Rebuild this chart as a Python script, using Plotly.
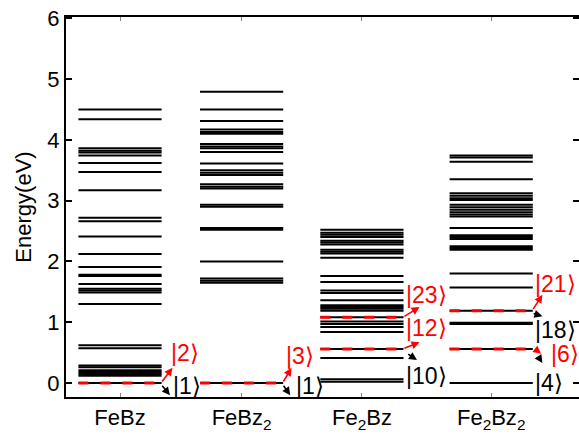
import plotly.graph_objects as go

# ---------------- data ----------------
categories = ["FeBz", "FeBz<sub>2</sub>", "Fe<sub>2</sub>Bz", "Fe<sub>2</sub>Bz<sub>2</sub>"]
centers = [1.0, 1.95, 2.89, 3.9]

levels_FeBz = [4.50, 4.34, 3.86, 3.82, 3.79, 3.74, 3.62, 3.47, 3.17, 2.72, 2.66, 2.41,
               2.12, 1.91, 1.78, 1.76, 1.63, 1.55, 1.52, 1.49, 1.30, 0.62, 0.57,
               0.29, 0.26, 0.21, 0.18, 0.15, 0.12, 0.0]
levels_FeBz2 = [4.79, 4.50, 4.31, 4.17, 4.13, 4.10, 3.93, 3.89, 3.86, 3.80, 3.61, 3.50,
                3.46, 3.42, 3.27, 3.23, 3.20, 2.93, 2.90, 2.55, 2.52, 2.00, 1.72, 1.68,
                1.65, 0.0]
levels_Fe2Bz = [2.52, 2.47, 2.44, 2.40, 2.34, 2.31, 2.28, 2.19, 2.16, 2.13, 2.06, 1.76,
                1.66, 1.52, 1.48, 1.36, 1.28, 1.25, 1.22, 1.19, 1.08, 1.01, 0.97, 0.92,
                0.84, 0.56, 0.41, 0.06, 0.02]
levels_Fe2Bz2 = [3.74, 3.71, 3.64, 3.35, 3.12, 3.08, 3.04, 3.01, 2.93, 2.89, 2.85, 2.81,
                 2.77, 2.74, 2.55, 2.43, 2.40, 2.37, 2.25, 2.22, 2.19, 1.80, 1.57, 1.19,
                 0.99, 0.97, 0.56, 0.0]
all_levels = [levels_FeBz, levels_FeBz2, levels_Fe2Bz, levels_Fe2Bz2]

# highlighted (red dashed) levels per column
highlight = [[0.0], [0.0], [1.08, 0.56], [1.19, 0.56]]

# state labels: (column, text, colour, x, y)
state_labels = [
    (0, "|2⟩", "red", 1.38, 0.50), (0, "|1⟩", "black", 1.40, -0.05),
    (1, "|3⟩", "red", 2.28, 0.44), (1, "|1⟩", "black", 2.36, -0.05),
    (2, "|23⟩", "red", 3.22, 1.44), (2, "|12⟩", "red", 3.22, 0.91), (2, "|10⟩", "black", 3.22, 0.12),
    (3, "|21⟩", "red", 4.23, 1.63), (3, "|18⟩", "black", 4.23, 0.87),
    (3, "|6⟩", "red", 4.35, 0.48), (3, "|4⟩", "black", 4.23, 0.0),
]
# arrows: (tail_x, tail_y, head_x, head_y, colour)
arrows = [
    (1.32, 0.0, 1.41, 0.25, "red"), (1.32, -0.02, 1.39, -0.20, "black"),
    (2.27, 0.0, 2.34, 0.25, "red"), (2.27, -0.02, 2.33, -0.20, "black"),
    (3.21, 1.08, 3.34, 1.25, "red"), (3.21, 0.56, 3.34, 0.67, "red"), (3.24, 0.49, 3.32, 0.38, "black"),
    (4.22, 1.19, 4.30, 1.45, "red"), (4.22, 1.15, 4.30, 1.10, "black"),
    (4.23, 0.58, 4.29, 0.48, "red"), (4.26, 0.46, 4.30, 0.33, "black"),
]

hw = 0.325
FONT = "Liberation Sans, Arial, Helvetica, sans-serif"

fig = go.Figure()

for c, levs in zip(centers, all_levels):
    xs, ys = [], []
    for e in levs:
        xs += [c - hw, c + hw, None]
        ys += [e, e, None]
    fig.add_trace(go.Scatter(x=xs, y=ys, mode="lines",
                             line=dict(color="black", width=2),
                             hoverinfo="skip", showlegend=False))

for c, levs in zip(centers, highlight):
    xs, ys = [], []
    for e in levs:
        xs += [c - hw, c + hw, None]
        ys += [e, e, None]
    fig.add_trace(go.Scatter(x=xs, y=ys, mode="lines",
                             line=dict(color="red", width=3, dash="10px,12px"),
                             hoverinfo="skip", showlegend=False))

# invisible trace for right-side tick marks
fig.add_trace(go.Scatter(x=[None], y=[None], yaxis="y2", showlegend=False, hoverinfo="skip"))

for col, txt, colr, x, y in state_labels:
    fig.add_annotation(x=x, y=y, text=txt, showarrow=False, xanchor="left", yanchor="middle",
                       font=dict(family=FONT, size=23, color=colr))

for tx, ty, hx, hy, colr in arrows:
    fig.add_annotation(x=hx, y=hy, ax=tx, ay=ty, xref="x", yref="y", axref="x", ayref="y",
                       text="", showarrow=True, arrowhead=2, arrowsize=1, arrowwidth=1.6,
                       arrowcolor=colr, standoff=0, startstandoff=0)

yr = [-0.23, 6.02]
fig.update_layout(
    width=579, height=439,
    margin=dict(l=66, r=0, t=17, b=42),
    plot_bgcolor="white", paper_bgcolor="white",
    font=dict(family=FONT, size=22, color="black"),
    xaxis=dict(range=[0.578, 4.586], tickvals=centers, ticktext=categories,
               showline=True, linecolor="black", linewidth=2, mirror="ticks",
               ticks="inside", ticklen=4, tickcolor="#888", showgrid=False, zeroline=False,
               tickfont=dict(size=22)),
    yaxis=dict(range=yr, tickvals=[0, 1, 2, 3, 4, 5, 6],
               showline=True, linecolor="black", linewidth=2,
               ticks="inside", ticklen=6, tickwidth=2, tickcolor="black",
               showgrid=False, zeroline=False, tickfont=dict(size=22),
               title=dict(text="Energy(eV)", font=dict(size=22), standoff=10)),
    yaxis2=dict(range=yr, overlaying="y", side="right", tickvals=[0, 1, 2, 3, 4, 5, 6],
                showticklabels=False, showline=False, showgrid=False, zeroline=False,
                ticks="inside", ticklen=6, tickwidth=2, tickcolor="black"),
)

fig.write_html("out.html")
